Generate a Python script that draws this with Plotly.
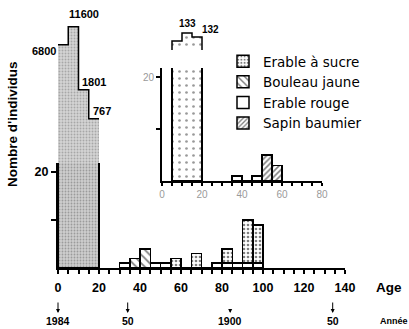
import math
import plotly.graph_objects as go

# ---------------- data ----------------
BIN_WIDTH = 5
# regeneration column (ages 0-20), shown on a broken scale
YOUNG_BINS = [0, 5, 10, 15]
YOUNG_MAIN = [6800, 11600, 1801, 767]
YOUNG_LABELS = ["6800", "11600", "1801", "767"]

# main histogram, ages 30-100 (5-year classes, left edges)
BIN_STARTS = [30, 35, 40, 45, 50, 55, 60, 65, 70, 75, 80, 85, 90, 95]
SUCRE = [0, 0, 0, 0, 0, 2, 0, 3, 0, 0, 3, 0, 9, 8]
BOULEAU = [0, 2, 4, 0, 0, 0, 0, 0, 0, 0, 0, 0, 0, 0]
ROUGE = [1, 0, 0, 1, 1, 0, 0, 0, 0, 1, 1, 1, 1, 1]
SAPIN = [0, 0, 0, 0, 0, 0, 0, 0, 0, 0, 0, 0, 0, 0]

# inset histogram
INSET_YOUNG_BINS = [0, 5, 10, 15]
INSET_YOUNG = [0, 131, 133, 132]
INSET_BINS = [35, 40, 45, 50, 55]
INSET_SUCRE = [0, 0, 0, 0, 0]
INSET_BOULEAU = [0, 0, 0, 0, 0]
INSET_ROUGE = [1, 0, 1, 0, 0]
INSET_SAPIN = [0, 0, 0, 5, 3]

SPECIES = ["Erable à sucre", "Bouleau jaune", "Erable rouge", "Sapin baumier"]

# calendar years under the age axis
YEARS = [1984, 1950, 1900, 1850]
YEAR_TEXT = ["1984", "50", "1900", "50"]
REF_YEAR = 1984

MAIN_TICKS = [0, 20, 40, 60, 80, 100, 120, 140]
INSET_TICKS = [0, 20, 40, 60, 80]

# ---------------- layout helpers (pixel -> paper) ----------------
W, H = 409, 329
ML, MR, MT, MB = 58, 64, 5, 61
PW, PH = W - ML - MR, H - MT - MB


def px(p):
    return (p - ML) / PW


def py(p):
    return (H - MB - p) / PH


FONT = "Liberation Sans"
LFONT = "DejaVu Sans"
BLACK = "black"

styles = {
    SPECIES[0]: dict(color="white", pattern=dict(shape=".", fgcolor="black", bgcolor="white", size=4, solidity=0.35)),
    SPECIES[1]: dict(color="white", pattern=dict(shape="\\", fgcolor="black", bgcolor="white", size=6, solidity=0.3)),
    SPECIES[2]: dict(color="white"),
    SPECIES[3]: dict(color="white", pattern=dict(shape="/", fgcolor="black", bgcolor="white", size=4, solidity=0.4)),
}
rank = {s: i + 1 for i, s in enumerate(SPECIES)}

fig = go.Figure()

# --- regeneration column, lower (linear) part ---
young_left = YOUNG_BINS[0]
young_right = YOUNG_BINS[-1] + BIN_WIDTH
fig.add_trace(go.Bar(
    x=[(young_left + young_right) / 2], y=[sum(YOUNG_MAIN)], width=[young_right - young_left],
    xaxis="x", yaxis="y", showlegend=False, hoverinfo="skip",
    marker=dict(color="#cdcdcd",
                pattern=dict(shape=".", fgcolor="#6a6a6a", bgcolor="#cdcdcd", size=3, solidity=0.3),
                line=dict(color=BLACK, width=2)),
))
# --- regeneration column, upper (broken, log) part ---
fig.add_trace(go.Bar(
    x=[b + BIN_WIDTH / 2 for b in YOUNG_BINS], y=YOUNG_MAIN, width=BIN_WIDTH,
    xaxis="x", yaxis="y2", showlegend=False, hoverinfo="skip",
    marker=dict(color="#d4d4d4",
                pattern=dict(shape=".", fgcolor="#7a7a7a", bgcolor="#d4d4d4", size=3, solidity=0.3),
                line=dict(width=0)),
))
fig.add_trace(go.Scatter(
    x=YOUNG_BINS + [young_right], y=YOUNG_MAIN + [YOUNG_MAIN[-1]],
    mode="lines", line=dict(color=BLACK, width=1.5, shape="hv"),
    xaxis="x", yaxis="y2", showlegend=False, hoverinfo="skip",
))

# --- species, main histogram (stack: rouge at the bottom) ---
main_vals = {SPECIES[0]: SUCRE, SPECIES[1]: BOULEAU, SPECIES[2]: ROUGE, SPECIES[3]: SAPIN}
inset_vals = {SPECIES[0]: INSET_SUCRE, SPECIES[1]: INSET_BOULEAU, SPECIES[2]: INSET_ROUGE, SPECIES[3]: INSET_SAPIN}
stack_order = [SPECIES[2], SPECIES[1], SPECIES[3], SPECIES[0]]
for sp in stack_order:
    fig.add_trace(go.Bar(
        x=[b + BIN_WIDTH / 2 for b in BIN_STARTS], y=main_vals[sp], width=BIN_WIDTH,
        name=sp, legendgroup=sp, legendrank=rank[sp], xaxis="x", yaxis="y",
        marker=dict(**styles[sp], line=dict(color=BLACK, width=1.5)),
    ))
for sp in stack_order:
    fig.add_trace(go.Bar(
        x=[b + BIN_WIDTH / 2 for b in INSET_BINS], y=inset_vals[sp], width=BIN_WIDTH,
        name=sp, legendgroup=sp, showlegend=False, xaxis="x2", yaxis="y3",
        marker=dict(**styles[sp], line=dict(color=BLACK, width=1.5)),
    ))

# --- inset young column ---
nz = [b for b, v in zip(INSET_YOUNG_BINS, INSET_YOUNG) if v > 0]
in_left, in_right = nz[0], nz[-1] + BIN_WIDTH
fig.add_trace(go.Bar(
    x=[(in_left + in_right) / 2], y=[sum(INSET_YOUNG)], width=[in_right - in_left],
    xaxis="x2", yaxis="y3", showlegend=False, hoverinfo="skip",
    marker=dict(color="white",
                pattern=dict(shape=".", fgcolor="#333333", bgcolor="white", size=7, solidity=0.12),
                line=dict(color=BLACK, width=1.5)),
))
iy_x = [b + BIN_WIDTH / 2 for b, v in zip(INSET_YOUNG_BINS, INSET_YOUNG) if v > 0]
iy_y = [v for v in INSET_YOUNG if v > 0]
fig.add_trace(go.Bar(
    x=iy_x, y=iy_y, width=BIN_WIDTH, xaxis="x2", yaxis="y4", showlegend=False, hoverinfo="skip",
    marker=dict(color="white",
                pattern=dict(shape=".", fgcolor="#333333", bgcolor="white", size=7, solidity=0.12),
                line=dict(width=0)),
))
step_x = [in_left] + nz + [in_right, in_right]
step_y = [0] + iy_y + [iy_y[-1], 0]
fig.add_trace(go.Scatter(
    x=step_x, y=step_y, mode="lines", line=dict(color=BLACK, width=1.5, shape="hv"),
    xaxis="x2", yaxis="y4", showlegend=False, hoverinfo="skip",
))

# ---------------- annotations ----------------
ann = []
lab_font = dict(family=FONT, size=11, color=BLACK)
pos = {
    "6800": dict(xanchor="right", yanchor="top", xshift=0, yshift=2),
    "11600": dict(xanchor="left", yanchor="bottom", xshift=-1, yshift=5),
    "1801": dict(xanchor="left", yanchor="bottom", xshift=1, yshift=0),
    "767": dict(xanchor="left", yanchor="bottom", xshift=2, yshift=0),
}
for b, v, t in zip(YOUNG_BINS, YOUNG_MAIN, YOUNG_LABELS):
    p = pos[t]
    ann.append(dict(x=b, y=math.log10(v), xref="x", yref="y2", text="<b>%s</b>" % t, showarrow=False,
                    xanchor=p["xanchor"], yanchor=p["yanchor"], xshift=p["xshift"], yshift=p["yshift"],
                    font=lab_font))
for b, v in zip(INSET_YOUNG_BINS, INSET_YOUNG):
    if v == 133:
        ann.append(dict(x=b + BIN_WIDTH / 2, y=v, xref="x2", yref="y4", text="<b>%d</b>" % v,
                        showarrow=False, xanchor="center", yanchor="bottom", yshift=2,
                        font=dict(family=FONT, size=10, color=BLACK)))
    elif v == 132:
        ann.append(dict(x=b + BIN_WIDTH, y=v, xref="x2", yref="y4", text="<b>%d</b>" % v,
                        showarrow=False, xanchor="left", yanchor="bottom", xshift=-2, yshift=0,
                        font=dict(family=FONT, size=10, color=BLACK)))
for yr, t in zip(YEARS, YEAR_TEXT):
    age = REF_YEAR - yr
    ann.append(dict(x=age, y=py(321), xref="x", yref="paper", text="<b>%s</b>" % t, showarrow=False,
                    xanchor="center", yanchor="middle", font=dict(family=FONT, size=10.5, color=BLACK)))
    ann.append(dict(x=age, y=py(313), xref="x", yref="paper", text="", showarrow=True,
                    ax=0, ay=-12 if t != "1900" else -4, arrowhead=2, arrowsize=0.8, arrowwidth=1,
                    arrowcolor=BLACK))
ann.append(dict(x=px(378), y=py(321), xref="paper", yref="paper", text="<b>Année</b>", showarrow=False,
                xanchor="left", yanchor="middle", font=dict(family=FONT, size=9, color=BLACK)))
ann.append(dict(x=px(374), y=py(287), xref="paper", yref="paper", text="<b>Age</b>", showarrow=False,
                xanchor="left", yanchor="middle", font=dict(family=FONT, size=13.5, color=BLACK)))
ann.append(dict(x=px(12), y=py(125), xref="paper", yref="paper", text="<b>Nombre d'individus</b>",
                showarrow=False, textangle=-90, xanchor="center", yanchor="middle",
                font=dict(family=FONT, size=13.5, color=BLACK)))

axis_common = dict(showgrid=False, zeroline=False, color=BLACK)
fig.update_layout(
    width=W, height=H,
    margin=dict(l=ML, r=MR, t=MT, b=MB, autoexpand=False),
    paper_bgcolor="white", plot_bgcolor="white",
    barmode="stack", hovermode=False,
    font=dict(family=FONT, color=BLACK),
    xaxis=dict(domain=[0, 1], range=[0, 140], anchor="y", showline=True, linecolor=BLACK, linewidth=2,
               ticks="outside", ticklen=4, tickwidth=1.5, tickcolor=BLACK,
               tickvals=MAIN_TICKS, ticktext=["<b>%d</b>" % v for v in MAIN_TICKS],
               tickfont=dict(family=FONT, size=12.5, color=BLACK), ticklabelstandoff=3,
               minor=dict(dtick=5, tick0=0, ticks="outside", ticklen=4, tickwidth=1.5, tickcolor=BLACK),
               **axis_common),
    yaxis=dict(domain=[0, py(163)], range=[0, 105 / 4.8], anchor="x", showline=True, linecolor=BLACK,
               linewidth=2, ticks="outside", ticklen=5, tickwidth=1.5, tickcolor=BLACK,
               tickvals=[10, 20], ticktext=["", "<b>20</b>"],
               tickfont=dict(family=FONT, size=12.5, color=BLACK), **axis_common),
    yaxis2=dict(domain=[py(163), py(10)], type="log", range=[2.317, 4.279], anchor="x", visible=False,
                **axis_common),
    xaxis2=dict(domain=[px(162), px(322)], range=[0, 80], anchor="y3", showline=True, linecolor=BLACK,
                linewidth=2, ticks="outside", ticklen=3, tickwidth=1.5, tickcolor=BLACK,
                tickvals=INSET_TICKS, tickfont=dict(family=FONT, size=10, color="#9a9a9a"),
                minor=dict(dtick=5, tick0=0, ticks="outside", ticklen=3, tickwidth=1.5, tickcolor=BLACK),
                **axis_common),
    yaxis3=dict(domain=[py(181), py(68)], range=[0, 113 / 5.2], anchor="x2", showline=True, linecolor=BLACK,
                linewidth=2, ticks="outside", ticklen=4, tickwidth=1.5, tickcolor=BLACK,
                tickvals=[10, 20], ticktext=["", "20"],
                tickfont=dict(family=FONT, size=10, color="#9a9a9a"), **axis_common),
    yaxis4=dict(domain=[py(50), py(20)], range=[128.75, 136.25], anchor="x2", visible=False, **axis_common),
    legend=dict(x=px(223), y=py(46), xanchor="left", yanchor="top", bgcolor="rgba(0,0,0,0)",
                font=dict(family=LFONT, size=13.5, color=BLACK), traceorder="normal", tracegroupgap=0),
    annotations=ann,
)

fig.write_html("out.html", config={"displayModeBar": False},
               post_script="document.body.style.margin='0';document.body.style.padding='0';")
